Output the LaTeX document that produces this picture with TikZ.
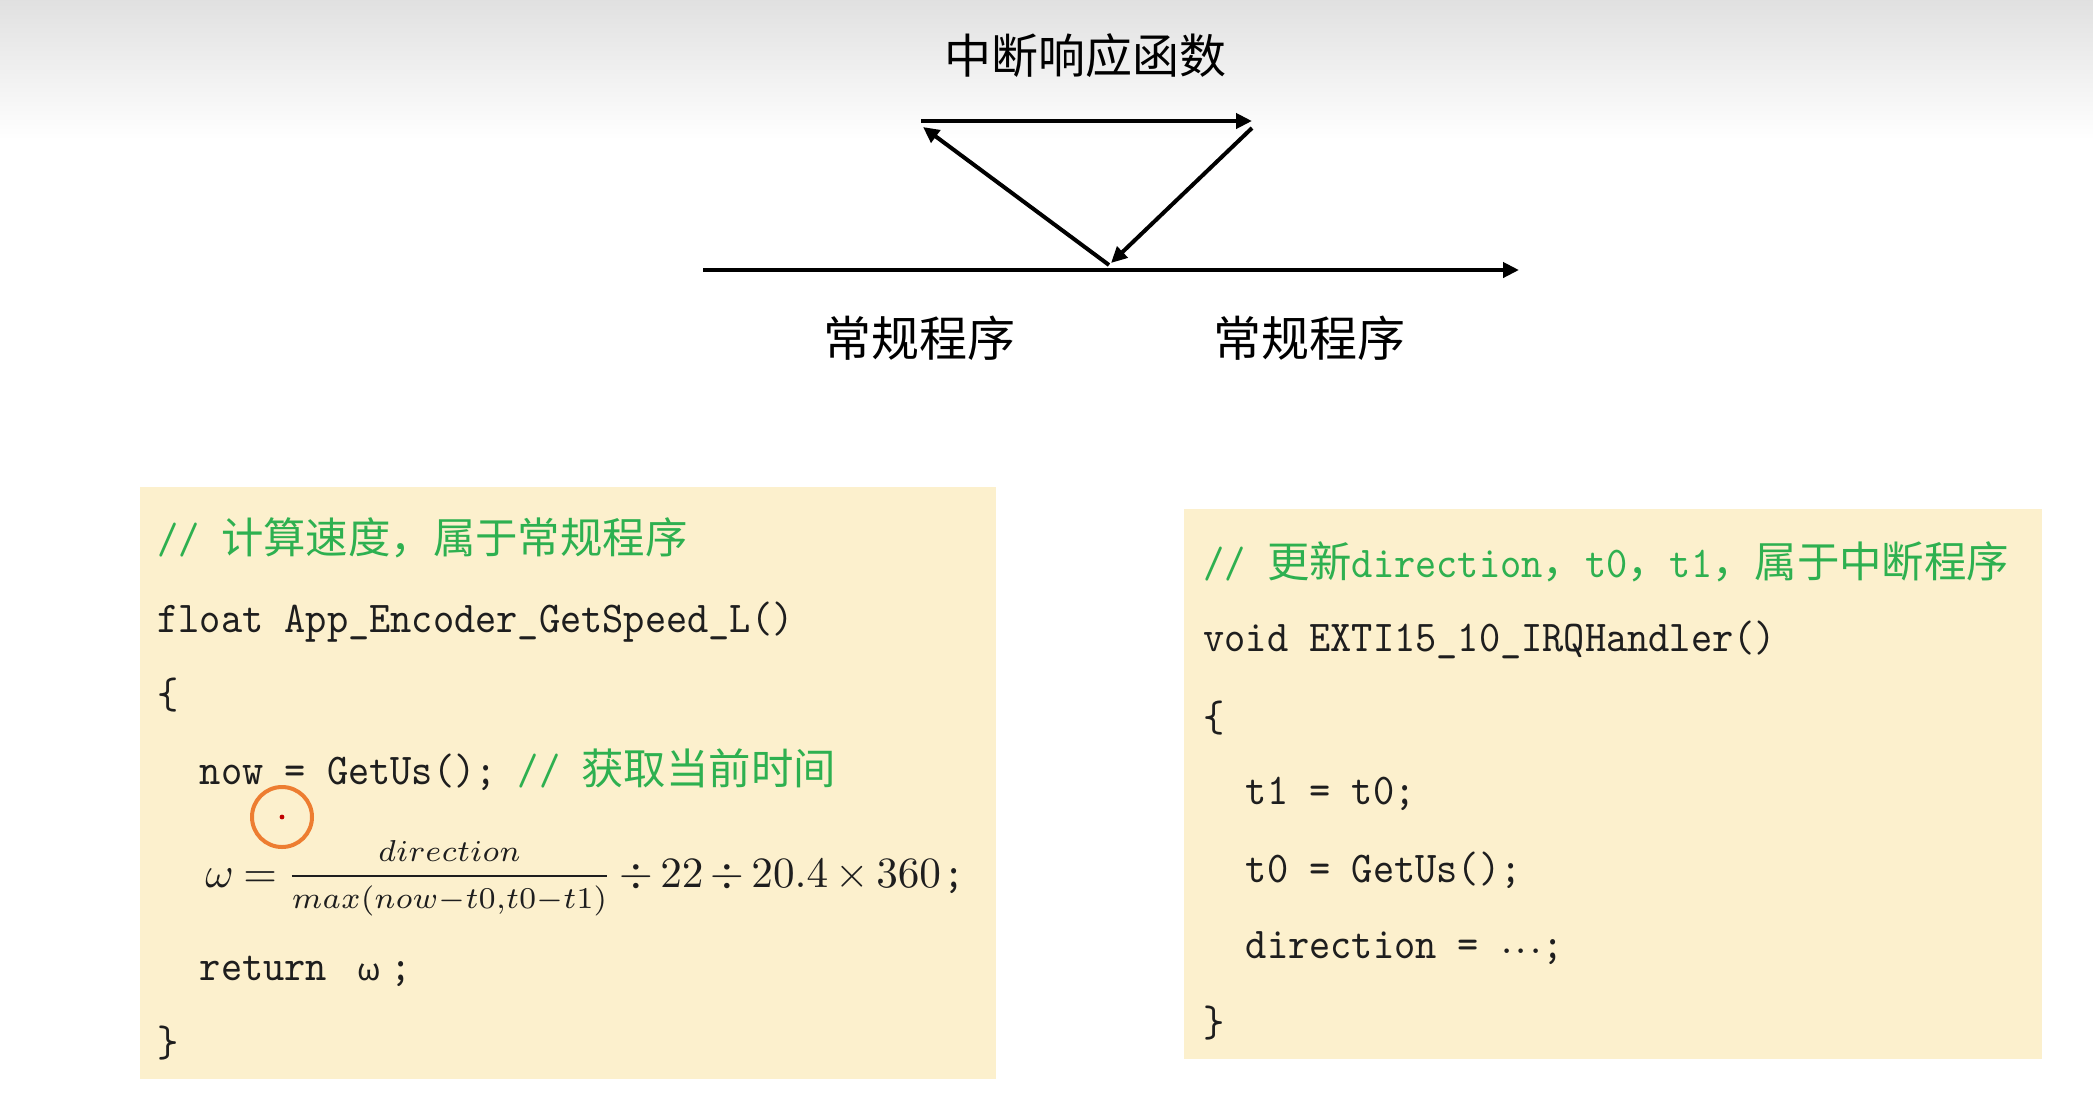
\documentclass[tikz,border=0pt]{standalone}
\usepackage{graphicx}
\usepackage{fontspec}
\usetikzlibrary{arrows.meta}
\newfontfamily\cjkfont{Noto Sans CJK SC}
\newfontfamily\codefont{lmmono10-regular.otf}[FakeStretch=0.918]
\newcommand\cjk[1]{{\fontsize{21.2pt}{25pt}\cjkfont #1}}
\definecolor{boxfill}{RGB}{252,240,205}
\definecolor{cmtgreen}{RGB}{46,176,80}
\definecolor{codeblack}{RGB}{30,30,30}
\definecolor{circorange}{RGB}{237,125,49}
\definecolor{dotred}{RGB}{192,0,0}
\tikzset{
  titletext/.style={inner sep=0pt, font=\fontsize{23.5pt}{28pt}\cjkfont, text=black},
  lbltext/.style={inner sep=0pt, font=\fontsize{24pt}{28pt}\cjkfont, text=black},
  arr/.style={line width=2pt, -{Triangle[length=8pt,width=7.5pt]}},
  codeline/.style={anchor=base west, inner sep=0pt, font=\fontsize{22pt}{26pt}\codefont\frenchspacing, text=codeblack},
  cmt/.style={codeline, text=cmtgreen},
  codebox/.style={fill=boxfill}
}
\begin{document}
\begin{tikzpicture}[x=0.5pt,y=-0.5pt]
\useasboundingbox (0,0) rectangle (2093,1115);
\fill[white] (0,0) rectangle (2093,1115);
\shade[top color=black!12, bottom color=white] (0,0) rectangle (2093,140);

% top diagram
\node[titletext] (title) at (1085,56) {中断响应函数};
\node[lbltext] (lab1) at (919,338) {常规程序};
\node[lbltext] (lab2) at (1309,338) {常规程序};
\coordinate (mainS) at (703,270);
\coordinate (mainE) at (1519,270);
\coordinate (isrS) at (921,121);
\coordinate (isrE) at (1252,121);
\coordinate (brk) at (1109,265);
\coordinate (brkTop) at (923,127);
\coordinate (retTop) at (1252,128);
\coordinate (retBot) at (1111,263);
\draw[arr] (mainS) -- (mainE);
\draw[arr] (isrS) -- (isrE);
\draw[arr] (brk) -- (brkTop);
\draw[arr] (retTop) -- (retBot);

% boxes
\fill[codebox] (140,487) rectangle (996,1079);
\fill[codebox] (1184,509) rectangle (2042,1059);

% left code
\node[cmt] (l1) at (157,553) {// \cjk{计算速度，属于常规程序}};
\node[codeline] (l2) at (157,632) {float App\_Encoder\_GetSpeed\_L()};
\node[codeline] (l3) at (157,708) {\{};
\node[codeline] (l4) at (199.4,784) {now = GetUs(); \textcolor{cmtgreen}{// \cjk{获取当前时间}}};
\node[codeline] (l5) at (205,887) {\scalebox{2.16}{\fontsize{10pt}{12pt}\selectfont\medmuskip=3mu\thickmuskip=4mu$\omega = \frac{\raisebox{2pt}{$\scriptstyle direction$}}{\raisebox{-1.6pt}{$\scriptstyle max(now-t0,t0-t1)$}} \div 22 \div 20.4 \times 360$}\kern1pt;};
\node[codeline] (l6) at (199.4,980) {return \makebox[21.2pt][c]{\fontsize{15pt}{18pt}\cjkfont ω};};
\node[codeline] (l7) at (157,1056) {\}};

% circle mark
\node[draw=circorange, line width=2pt, circle, minimum size=30pt, inner sep=0pt] (ring) at (282,817) {};
\node[fill=dotred, circle, minimum size=2.4pt, inner sep=0pt] (dot) at (282,817) {};

% right code
\node[cmt] (r1) at (1203,577) {// \cjk{更新}direction\cjk{，}t0\cjk{，}t1\cjk{，属于中断程序}};
\node[codeline] (r2) at (1203,651) {void EXTI15\_10\_IRQHandler()};
\node[codeline] (r3) at (1203,731) {\{};
\node[codeline] (r4) at (1245.4,804) {t1 = t0;};
\node[codeline] (r5) at (1245.4,882) {t0 = GetUs();};
\node[codeline] (r6) at (1245.4,958) {direction = \makebox[21.2pt][c]{\scalebox{1.45}{\fontsize{10pt}{12pt}\selectfont\boldmath$\cdots$}};};
\node[codeline] (r7) at (1203,1036) {\}};
\end{tikzpicture}
\end{document}
